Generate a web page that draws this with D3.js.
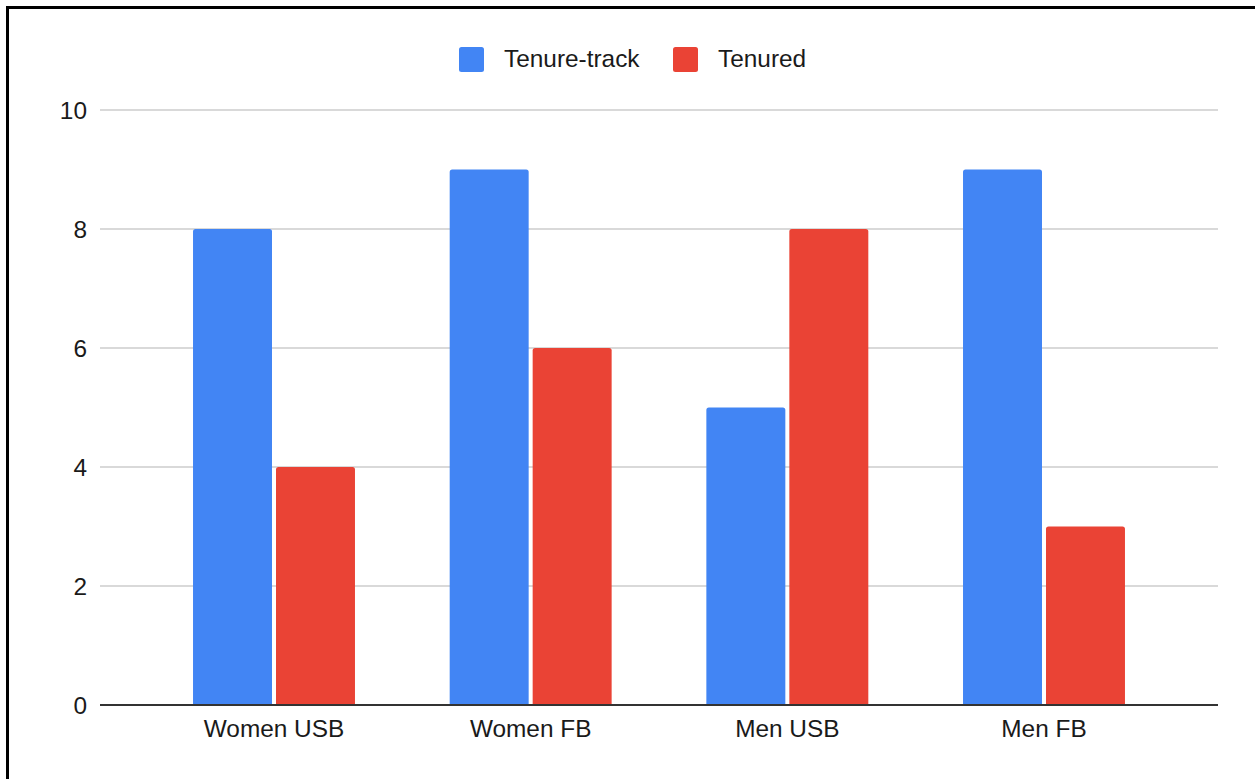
<!DOCTYPE html>
<html>
<head>
<meta charset="utf-8">
<script src="https://cdn.jsdelivr.net/npm/d3@7"></script>
<style>
  html, body { margin: 0; padding: 0; background: #fff; }
  svg { display: block; }
  text { font-family: "Liberation Sans", Arial, sans-serif; fill: #1a1a1a; }
</style>
</head>
<body>
<svg id="chart" width="1255" height="779"></svg>
<script>
// Faculty counts by group and tenure status
const categories = ["Women USB", "Women FB", "Men USB", "Men FB"];
const seriesNames = ["Tenure-track", "Tenured"];
const tenureTrack = [8, 9, 5, 9];
const tenured = [4, 6, 8, 3];
const yTicks = [0, 2, 4, 6, 8, 10];
const colors = ["#4285F4", "#EA4335"];

const svg = d3.select("#chart");
const W = 1255, H = 779;
const fontSize = 24.4;

// frame
svg.append("rect")
  .attr("x", 7.5).attr("y", 7.5)
  .attr("width", W).attr("height", H)
  .attr("fill", "none").attr("stroke", "#000").attr("stroke-width", 3);

const plotLeft = 100, plotRight = 1218;

const y = d3.scaleLinear().domain([0, 10]).range([705, 110]);

const x0 = d3.scaleBand()
  .domain(categories)
  .range([145.67, 1172.33])
  .paddingInner(0.369)
  .paddingOuter(0.1845);

const x1 = d3.scaleBand()
  .domain(seriesNames)
  .range([0, x0.bandwidth()])
  .paddingInner(0.0482);

// gridlines
svg.append("g").selectAll("line")
  .data(yTicks.filter(d => d !== 0))
  .join("line")
  .attr("x1", plotLeft).attr("x2", plotRight)
  .attr("y1", d => y(d)).attr("y2", d => y(d))
  .attr("stroke", "#cccccc").attr("stroke-width", 1.3);

// y labels
svg.append("g").selectAll("text")
  .data(yTicks)
  .join("text")
  .attr("x", 87)
  .attr("y", d => y(d))
  .attr("dy", "0.36em")
  .attr("text-anchor", "end")
  .attr("font-size", fontSize)
  .text(d => d);

// bars with rounded top corners
function barPath(x, yTop, w, yBase, r) {
  r = Math.min(r, w / 2, yBase - yTop);
  return `M${x},${yBase}V${yTop + r}Q${x},${yTop} ${x + r},${yTop}` +
         `H${x + w - r}Q${x + w},${yTop} ${x + w},${yTop + r}V${yBase}Z`;
}

const rows = categories.map((c, i) => ({
  cat: c,
  vals: [
    { s: seriesNames[0], v: tenureTrack[i], color: colors[0] },
    { s: seriesNames[1], v: tenured[i], color: colors[1] }
  ]
}));

svg.append("g").selectAll("g")
  .data(rows)
  .join("g")
  .attr("transform", d => `translate(${x0(d.cat)},0)`)
  .selectAll("path")
  .data(d => d.vals)
  .join("path")
  .attr("d", d => barPath(x1(d.s), y(d.v), x1.bandwidth(), y(0), 2.5))
  .attr("fill", d => d.color);

// baseline
svg.append("line")
  .attr("x1", plotLeft).attr("x2", plotRight)
  .attr("y1", y(0)).attr("y2", y(0))
  .attr("stroke", "#333").attr("stroke-width", 2);

// category labels
svg.append("g").selectAll("text")
  .data(categories)
  .join("text")
  .attr("x", d => x0(d) + x0.bandwidth() / 2)
  .attr("y", 737)
  .attr("text-anchor", "middle")
  .attr("font-size", fontSize)
  .text(d => d);

// legend
const legendX = [459, 673];
const lg = svg.append("g").selectAll("g")
  .data(seriesNames)
  .join("g")
  .attr("transform", (d, i) => `translate(${legendX[i]},47)`);
lg.append("rect")
  .attr("width", 25).attr("height", 25).attr("rx", 2.5)
  .attr("fill", (d, i) => colors[i]);
lg.append("text")
  .attr("x", 45).attr("y", 20)
  .attr("font-size", fontSize)
  .text(d => d);
</script>
</body>
</html>
